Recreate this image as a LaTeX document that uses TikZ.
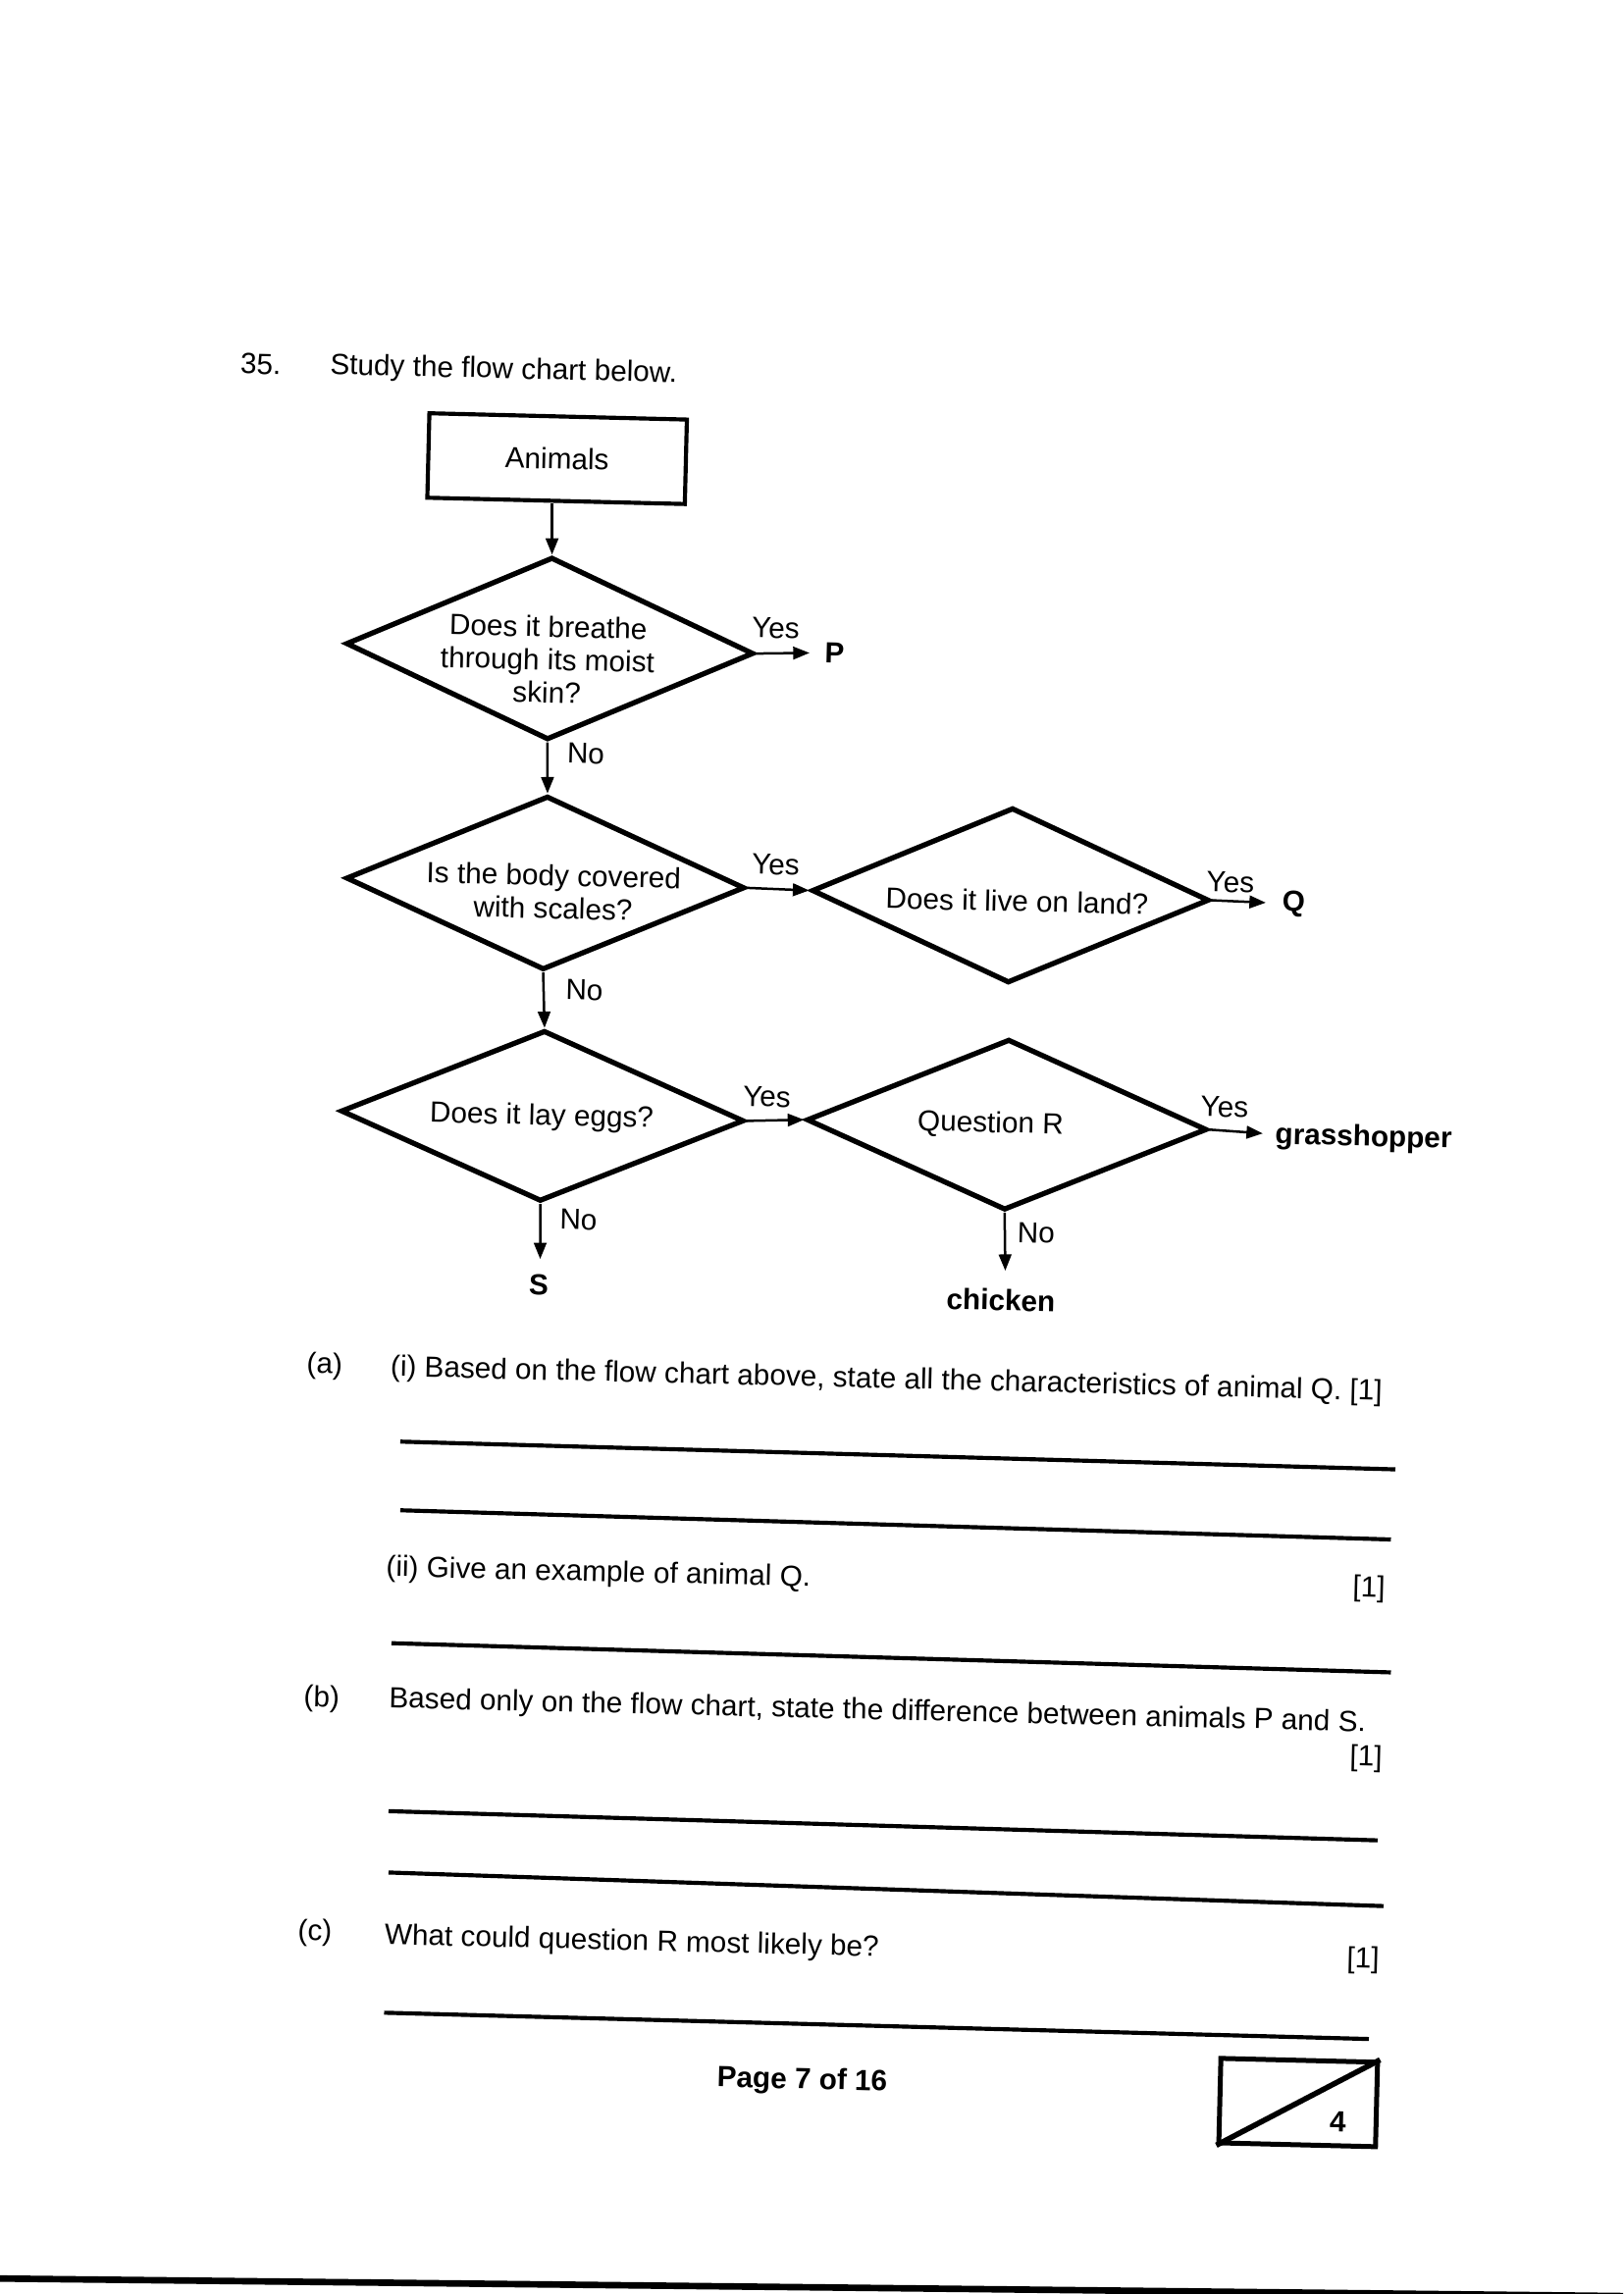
\documentclass[tikz,border=0pt]{standalone}
\usepackage{fontspec}
\setmainfont{Liberation Sans}
\usetikzlibrary{shapes.geometric,arrows.meta}
\begin{document}
\begin{tikzpicture}[x=0.54pt,y=-0.5359pt,
  every node/.append style={rotate=-1.4},
  txt/.style={font=\fontsize{10.7}{12.1}\selectfont, inner sep=0pt},
  btxt/.style={font=\fontsize{10.7}{12.1}\selectfont\bfseries, inner sep=0pt},
  dtxt/.style={txt, align=center},
  dia/.style={diamond, draw, line width=1.9pt, inner sep=0pt, minimum width=147pt, minimum height=64pt},
  boxst/.style={draw, line width=1.5pt, minimum width=94.5pt, minimum height=31pt, font=\fontsize{10.7}{12.1}\selectfont},
  arr/.style={line width=0.9pt, -{Triangle[length=6pt,width=4.6pt]}},
  ansline/.style={line width=1.5pt},
  markbox/.style={draw, line width=1.8pt, minimum width=57.5pt, minimum height=31pt}]

\path[use as bounding box, fill=white] (0,0) rectangle (1102.7,1570.6);

% header
\node[txt, anchor=west] (num) at (163,249) {35.};
\node[txt, anchor=west] (intro) at (224,251) {Study the flow chart below.};

% flow chart
\node[boxst] (animals) at (378.5,314) {Animals};

\node[dia, minimum width=149.6pt, minimum height=67pt] (d1) at (373.5,444) {};
\node[dtxt] (t1) at (372,451.5) {Does it breathe\\through its moist\\skin?};

\node[dia, minimum width=146.3pt, minimum height=63.8pt] (d2) at (370.5,604.5) {};
\node[dtxt] (t2) at (376,610.5) {Is the body covered\\with scales?};

\node[dia, minimum width=145.8pt, minimum height=64.3pt] (d3) at (686.5,613) {};
\node[dtxt] (t3) at (691,617) {Does it live on land?};

\node[dia, minimum width=148pt, minimum height=62.7pt] (d4) at (368.5,764) {};
\node[dtxt] (t4) at (368,765) {Does it lay eggs?};

\node[dia, minimum width=146.9pt, minimum height=62.7pt] (d5) at (684,770) {};
\node[dtxt] (t5) at (673,770) {Question R};

% connectors
\draw[arr] (d1.north |- animals.south) -- (d1.north);

\coordinate (pend) at (550,447);
\draw[arr] (d1.east) -- (pend);
\node[txt] (y1) at (527,430) {Yes};
\node[btxt] (P) at (567,447) {P};

\draw[arr] (d1.south) -- (d2.north);
\node[txt] (n1) at (398,516) {No};

\draw[arr] (d2.east) -- (d3.west);
\node[txt] (y2) at (527,592) {Yes};

\coordinate (qend) at (860,618);
\draw[arr] (d3.east) -- (qend);
\node[txt] (y3) at (836,604) {Yes};
\node[btxt] (Q) at (879,619) {Q};

\draw[arr] (d2.south) -- (d4.north);
\node[txt] (n2) at (397,678) {No};

\draw[arr] (d4.east) -- (d5.west);
\node[txt] (y4) at (521,751) {Yes};

\coordinate (gend) at (858,776);
\draw[arr] (d5.east) -- (gend);
\node[txt] (y5) at (832,758) {Yes};
\node[btxt, anchor=west] (grass) at (866,778) {grasshopper};

\coordinate (send) at (367,862);
\draw[arr] (d4.south) -- (send);
\node[txt] (n3) at (393,835) {No};
\node[btxt] (S) at (366,880) {S};

\coordinate (cend) at (683,870);
\draw[arr] (d5.south) -- (cend);
\node[txt] (n4) at (704,844) {No};
\node[btxt] (chicken) at (680,890) {chicken};

% questions
\node[txt, anchor=west] (qa) at (208,935) {(a)};
\node[txt, anchor=west] (qai) at (265,937) {(i) Based on the flow chart above, state all the characteristics of animal Q. [1]};
\draw[ansline] (272,987) -- (948,1006);
\draw[ansline] (272,1034) -- (945,1054);

\node[txt, anchor=west] (qaii) at (262,1074) {(ii) Give an example of animal Q.};
\node[txt] (m2) at (930,1088) {[1]};
\draw[ansline] (266,1125) -- (945,1145);

\node[txt, anchor=west] (qb) at (206,1163) {(b)};
\node[txt, anchor=west] (qbt) at (264,1164) {Based only on the flow chart, state the difference between animals P and S.};
\node[txt] (m3) at (928,1204) {[1]};
\draw[ansline] (264,1240) -- (936,1260);
\draw[ansline] (264,1282) -- (940,1305);

\node[txt, anchor=west] (qc) at (202,1323) {(c)};
\node[txt, anchor=west] (qct) at (261,1326) {What could question R most likely be?};
\node[txt] (m4) at (926,1342) {[1]};
\draw[ansline] (261,1378) -- (930,1396);

% footer
\node[btxt] (page) at (545,1425) {Page 7 of 16};
\node[markbox] (mk) at (882,1439.5) {};
\draw[line width=2pt] (mk.south west) -- (mk.north east);
\node[btxt] (four) at (909,1453) {4};

\draw[line width=2.4pt] (0,1560) -- (1102.7,1572);
\end{tikzpicture}
\end{document}
